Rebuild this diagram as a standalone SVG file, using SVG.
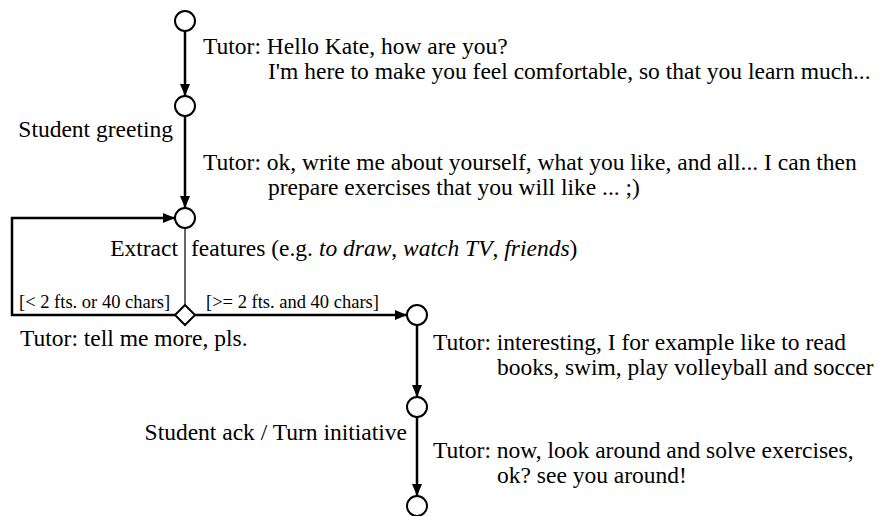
<svg xmlns="http://www.w3.org/2000/svg" width="884" height="516" viewBox="0 0 884 516">
  <defs>
    <marker id="arrow" viewBox="0 0 12 10" refX="12" refY="5" markerWidth="12" markerHeight="10" markerUnits="userSpaceOnUse" orient="auto">
      <path d="M0,0 L12,5 L0,10 z" fill="#000"/>
    </marker>
    <style>
      .state { fill: #fff; stroke: #000; stroke-width: 2; }
      .edge { fill: none; stroke: #000; stroke-width: 2.5; }
      .thin { fill: none; stroke: #000; stroke-width: 1.2; }
      text { font-family: "Liberation Serif", "Times New Roman", serif; font-size: 23.5px; fill: #000; }
      .small { font-size: 18.5px; }
    </style>
  </defs>
  <rect width="884" height="516" fill="#fff"/>

  <!-- connectors -->
  <g id="connectors">
    <line class="edge" x1="185" y1="31" x2="185" y2="96" marker-end="url(#arrow)"/>
    <line class="edge" x1="185" y1="116" x2="185" y2="208" marker-end="url(#arrow)"/>
    <path class="edge" d="M175,315 H12 V218 H175" marker-end="url(#arrow)"/>
    <line class="thin" x1="185" y1="228" x2="185" y2="305"/>
    <line class="edge" x1="195" y1="315" x2="407" y2="315" marker-end="url(#arrow)"/>
    <line class="edge" x1="417" y1="325" x2="417" y2="397" marker-end="url(#arrow)"/>
    <line class="edge" x1="417" y1="417" x2="417" y2="496" marker-end="url(#arrow)"/>
  </g>

  <!-- states -->
  <g id="start"><circle class="state" cx="185" cy="21" r="10"/></g>
  <g id="greeting"><circle class="state" cx="185" cy="106" r="10"/></g>
  <g id="extract"><circle class="state" cx="185" cy="218" r="10"/></g>
  <g id="decision"><path class="state" d="M185,305 L195,315 L185,325 L175,315 z"/></g>
  <g id="ack"><circle class="state" cx="417" cy="315" r="10"/></g>
  <g id="initiative"><circle class="state" cx="417" cy="407" r="10"/></g>
  <g id="end"><circle class="state" cx="417" cy="506" r="10"/></g>

  <!-- labels -->
  <g id="labels">
    <text x="203" y="54">Tutor: Hello Kate, how are you?</text>
    <text x="268" y="79">I'm here to make you feel comfortable, so that you learn much...</text>
    <text x="173" y="137" text-anchor="end">Student greeting</text>
    <text x="203" y="170">Tutor: ok, write me about yourself, what you like, and all... I can then</text>
    <text x="268" y="195">prepare exercises that you will like ... ;)</text>
    <text x="178" y="256" text-anchor="end">Extract</text>
    <text x="191" y="256">features (e.g. <tspan font-style="italic">to draw</tspan>, <tspan font-style="italic">watch TV</tspan>, <tspan font-style="italic">friends</tspan>)</text>
    <text class="small" x="19" y="308">[&lt; 2 fts. or 40 chars]</text>
    <text class="small" x="206" y="308">[&gt;= 2 fts. and 40 chars]</text>
    <text x="20" y="346">Tutor: tell me more, pls.</text>
    <text x="433" y="350">Tutor: interesting, I for example like to read</text>
    <text x="497" y="375">books, swim, play volleyball and soccer</text>
    <text x="407" y="440" text-anchor="end">Student ack / Turn initiative</text>
    <text x="433" y="458">Tutor: now, look around and solve exercises,</text>
    <text x="497" y="483">ok? see you around!</text>
  </g>
</svg>
